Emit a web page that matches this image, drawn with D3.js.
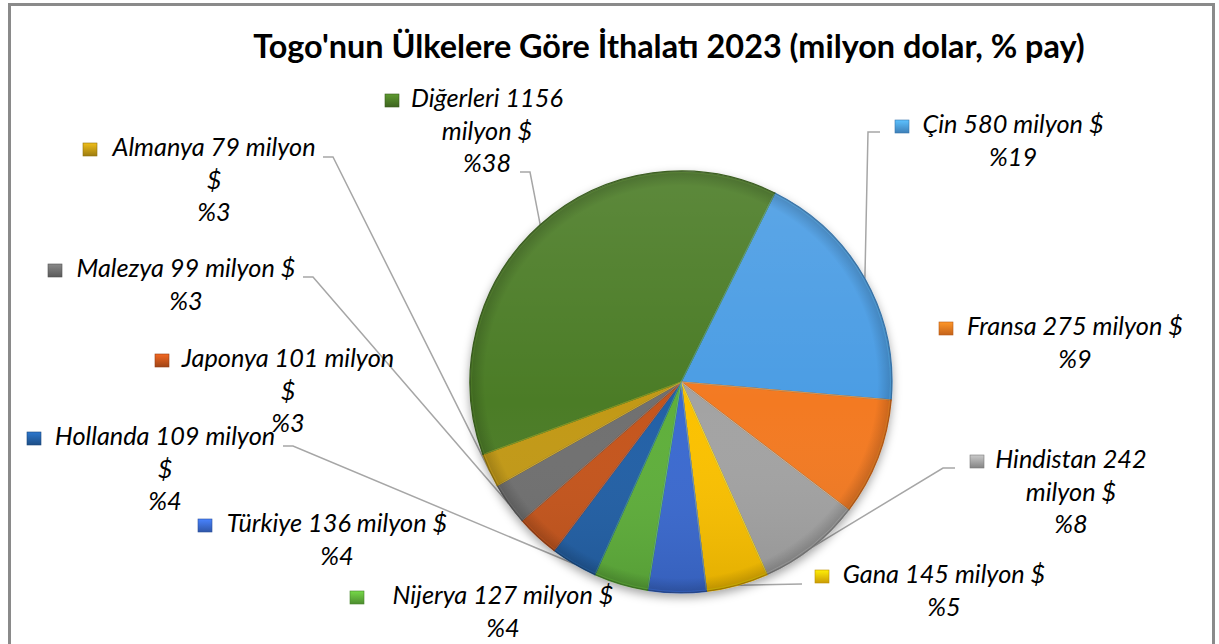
<!DOCTYPE html>
<html><head><meta charset="utf-8">
<script src="https://cdn.jsdelivr.net/npm/d3@7"></script>
<style>body{margin:0;background:#fff}</style>
</head><body>
<svg id="c" width="1219" height="644"></svg>
<script>
// ---- data ----
const countries = ["Çin","Fransa","Hindistan","Gana","Türkiye","Nijerya","Hollanda","Japonya","Malezya","Almanya","Diğerleri"];
const values = [580,275,242,145,136,127,109,101,99,79,1156];
const colors = ["#4b9de4","#f37a20","#a3a3a3","#fbc106","#3a6ad0","#5faf3a","#2461a6","#c5541b","#6f6f6f","#c29914","#4c7c27"];
const unitText = "milyon $";
const title = "Togo'nun Ülkelere Göre İthalatı 2023 (milyon dolar, % pay)";
// how each label wraps: 0 = "name v milyon $" / "%p"; 1 = "name v milyon" / "$" / "%p"; 2 = "name v" / "milyon $" / "%p"
const wrapStyle = [0,0,2,0,0,0,1,1,0,1,2];

// ---- layout ----
const W = 1219, H = 644;
const cx = 681, cy = 382, R = 211;
const startDeg = 26.4;
const labelPos = [[1013,133],[1075,335],[1071,468],[944,583],[337,532],[503,604],[165,445],[288,367],[186,277],[214,156],[487,107]];
const markerX = [895,939,970,815,198,350,27,155,48,83,385];
const leaderStart = [[[880,132],[868,132]],null,[[955,468],[943,468]],[[802,584]],null,null,[[283,446],[293,446]],null,[[303,277],[313,277]],[[323,157],[333,157]],[[520,172],[530,172]]];
const lineGap = 32.5;

const svg = d3.select("#c");
const defs = svg.append("defs");

// frame
svg.append("rect").attr("x",9.5).attr("y",4.5).attr("width",1204).attr("height",660)
  .attr("fill","#fff").attr("stroke","#8a8a8a").attr("stroke-width",3);

// title
const titleEl = svg.append("text").attr("x",669).attr("y",58).attr("text-anchor","middle")
  .attr("font-family","Lato, 'Open Sans', sans-serif").attr("font-weight","bold")
  .attr("font-size",28).attr("fill","#000").text(title);
let tw = titleEl.node().getComputedTextLength();
titleEl.attr("font-size", 28*832/tw);

// font size for labels
const probe = svg.append("text").attr("font-family","Lato, 'Open Sans', sans-serif").attr("font-style","italic")
  .attr("font-size",20).text("Fransa 275 milyon $");
const lblSize = 20*216/probe.node().getComputedTextLength();
probe.remove();

// filters & gradients
const f = defs.append("filter").attr("id","sh").attr("x","-20%").attr("y","-20%").attr("width","140%").attr("height","140%");
f.append("feDropShadow").attr("dx",0).attr("dy",4).attr("stdDeviation",5).attr("flood-color","#000").attr("flood-opacity",0.35);
const lg = defs.append("linearGradient").attr("id","ov").attr("x1",0).attr("y1",0).attr("x2",0).attr("y2",1);
lg.append("stop").attr("offset","0%").attr("stop-color","#fff").attr("stop-opacity",0.10);
lg.append("stop").attr("offset","55%").attr("stop-color","#fff").attr("stop-opacity",0.0);
lg.append("stop").attr("offset","100%").attr("stop-color","#000").attr("stop-opacity",0.10);
const rg = defs.append("radialGradient").attr("id","rim").attr("cx","50%").attr("cy","50%").attr("r","50%");
rg.append("stop").attr("offset","0%").attr("stop-color","#000").attr("stop-opacity",0);
rg.append("stop").attr("offset","93%").attr("stop-color","#000").attr("stop-opacity",0);
rg.append("stop").attr("offset","100%").attr("stop-color","#000").attr("stop-opacity",0.18);
colors.forEach((c,i)=>{
  const m = defs.append("linearGradient").attr("id","mk"+i).attr("x1",0).attr("y1",0).attr("x2",0).attr("y2",1);
  m.append("stop").attr("offset","0%").attr("stop-color",d3.color(c).brighter(0.6));
  m.append("stop").attr("offset","100%").attr("stop-color",d3.color(c).darker(0.6));
});

const data = countries.map((c,i)=>({name:c, value:values[i], color:colors[i], i}));
const total = d3.sum(values);
const pie = d3.pie().sort(null).value(d=>d.value)
  .startAngle(startDeg*Math.PI/180).endAngle(startDeg*Math.PI/180 + 2*Math.PI);
const arcs = pie(data);
const arc = d3.arc().innerRadius(0).outerRadius(R);
const edgeArc = d3.arc().innerRadius(R).outerRadius(R);

// leader lines
const lead = svg.append("g");
arcs.forEach(a=>{
  const s = leaderStart[a.data.i];
  if(!s) return;
  const e = edgeArc.centroid(a);
  const pts = s.concat([[cx+e[0], cy+e[1]]]);
  lead.append("path").attr("d", d3.line()(pts)).attr("fill","none")
    .attr("stroke","#a6a6a6").attr("stroke-width",1.5);
});

// pie
const g = svg.append("g").attr("transform",`translate(${cx},${cy})`);
const pg = g.append("g").attr("filter","url(#sh)");
pg.selectAll("path.s").data(arcs).join("path").attr("class","s")
  .attr("d",arc).attr("fill",d=>d.data.color)
  .attr("stroke",d=>d3.color(d.data.color).darker(0.7)).attr("stroke-width",1.2);
pg.selectAll("path.h").data(arcs).join("path").attr("class","h")
  .attr("d",d3.arc().innerRadius(0).outerRadius(R-1.5)).attr("fill","none")
  .attr("stroke",d=>d3.color(d.data.color).brighter(0.5)).attr("stroke-width",1).attr("stroke-opacity",0.7);
g.append("circle").attr("r",R).attr("fill","url(#ov)");
g.append("circle").attr("r",R).attr("fill","url(#rim)");

// labels
const lab = svg.append("g").attr("font-family","Lato, 'Open Sans', sans-serif").attr("font-style","italic")
  .attr("font-size",lblSize).attr("fill","#000");
data.forEach(d=>{
  const pct = "%" + Math.round(d.value/total*100);
  let lines;
  if (wrapStyle[d.i]===0) lines = [`${d.name} ${d.value} ${unitText}`, pct];
  else if (wrapStyle[d.i]===1) lines = [`${d.name} ${d.value} milyon`, "$", pct];
  else lines = [`${d.name} ${d.value}`, unitText, pct];
  const [x,y] = labelPos[d.i];
  lines.forEach((t,k)=>{
    lab.append("text").attr("x",x).attr("y",y+k*lineGap).attr("text-anchor","middle").text(t);
  });
  lab.append("rect").attr("x",markerX[d.i]).attr("y",y-13).attr("width",14).attr("height",13)
    .attr("fill","url(#mk"+d.i+")").attr("stroke",d3.color(d.color).darker(0.8)).attr("stroke-width",0.6);
});
</script>
</body></html>
